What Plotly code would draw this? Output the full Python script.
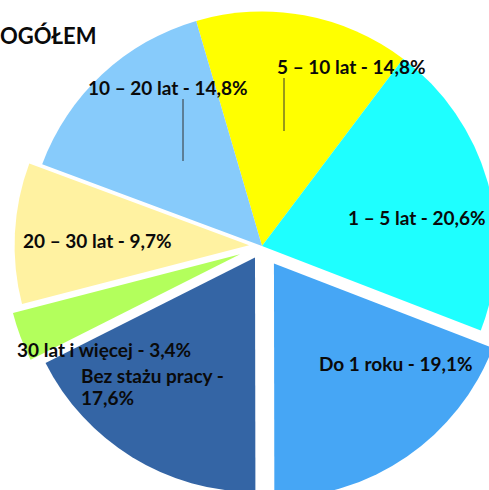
import plotly.graph_objects as go

# ---- data ----
labels = ["5 – 10 lat", "1 – 5 lat", "Do 1 roku", "Bez stażu pracy",
          "30 lat i więcej", "20 – 30 lat", "10 – 20 lat"]
values = [14.8, 20.6, 19.1, 17.6, 3.4, 9.7, 14.8]
colors = ["#FFFF00", "#1EFFFF", "#46A6F5", "#3465A5",
          "#B3FF5C", "#FFF2A1", "#87CBFB"]
pulls = [0, 0, 0.09, 0.057, 0.10, 0.055, 0]
title_text = "OGÓŁEM"

# ---- geometry (figure larger than window, shifted up) ----
W, H = 524, 516
OFF_Y = -12  # vertical offset of figure in the page


def px(x):
    return x / W


def py(y):
    return 1 - (y - OFF_Y) / H


def fmt(v):
    return f"{v:.1f}%".replace(".", ",")


fig = go.Figure(go.Pie(
    labels=labels,
    values=values,
    sort=False,
    direction="clockwise",
    rotation=-16.3,
    pull=pulls,
    marker=dict(colors=colors, line=dict(width=0)),
    textinfo="none",
    hoverinfo="label+percent",
    showlegend=False,
    domain=dict(x=[0, 1], y=[0, 1]),
))

FONT = dict(family="Lato", size=19, color="#0A0A0A", weight="bold")

# label placement in page pixels: list of (x, y, xanchor) per text line
label_pos = [
    [(351.5, 66, "center")],
    [(416.5, 217, "center")],
    [(396, 363, "center")],
    [(81, 375, "left"), (81, 397, "left")],
    [(103.5, 349, "center")],
    [(97.5, 240, "center")],
    [(167.5, 87, "center")],
]

annotations = []
for i, (lab, val) in enumerate(zip(labels, values)):
    pos = label_pos[i]
    if len(pos) == 2:
        lines = [f"{lab} -", fmt(val)]
    else:
        lines = [f"{lab} - {fmt(val)}"]
    for (x, y, xa), txt in zip(pos, lines):
        annotations.append(dict(
            x=px(x), y=py(y), xref="paper", yref="paper",
            text=txt, showarrow=False, xanchor=xa, yanchor="middle",
            align="left", font=FONT, borderpad=0, borderwidth=0,
        ))

annotations.append(dict(
    x=px(0), y=py(35.5), xref="paper", yref="paper", text=title_text,
    showarrow=False, xanchor="left", yanchor="middle",
    borderpad=0, borderwidth=0,
    font=dict(family="Lato", size=22, color="#0A0A0A", weight="bold"),
))

shapes = [
    dict(type="line", xref="paper", yref="paper",
         x0=px(183), x1=px(183), y0=py(99), y1=py(161),
         line=dict(color="#333333", width=1)),
    dict(type="line", xref="paper", yref="paper",
         x0=px(284), x1=px(284), y0=py(78), y1=py(131),
         line=dict(color="#333333", width=1)),
]

fig.update_layout(
    width=W, height=H,
    margin=dict(l=0, r=0, t=0, b=0),
    paper_bgcolor="white", plot_bgcolor="white",
    annotations=annotations, shapes=shapes,
)

post = """
document.documentElement.style.margin='0';
document.body.style.margin='0';
document.body.style.overflow='hidden';
var gd=document.getElementById('{plot_id}');
var wrap=gd.parentElement;
wrap.style.position='relative';
wrap.style.width='489px';wrap.style.height='490px';wrap.style.overflow='hidden';
gd.style.position='absolute';gd.style.left='0px';gd.style.top='-12px';
"""

fig.write_html("out.html", post_script=post, config={"displayModeBar": False})
